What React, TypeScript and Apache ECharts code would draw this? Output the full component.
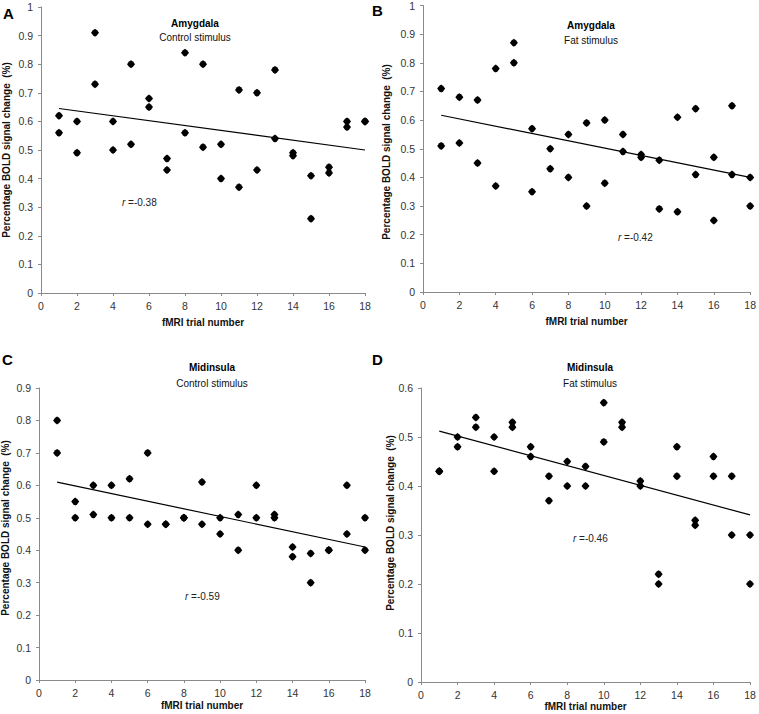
import React, { useEffect, useRef } from "react";
import * as echarts from "echarts";

const trials = [1, 2, 3, 4, 5, 6, 7, 8, 9, 10, 11, 12, 13, 14, 15, 16, 17, 18];

// Panel A: Amygdala, control stimulus (two observations per trial)
const amygControlA = [0.62, 0.6, 0.91, 0.6, 0.8, 0.68, 0.47, 0.84, 0.8, 0.52, 0.71, 0.7, 0.78, 0.49, 0.41, 0.44, 0.6, 0.6];
const amygControlB = [0.56, 0.49, 0.73, 0.5, 0.52, 0.65, 0.43, 0.56, 0.51, 0.4, 0.37, 0.43, 0.54, 0.48, 0.26, 0.42, 0.58, 0.6];
// Panel B: Amygdala, fat stimulus
const amygFatA = [0.71, 0.68, 0.67, 0.78, 0.87, 0.57, 0.5, 0.55, 0.59, 0.6, 0.55, 0.48, 0.46, 0.61, 0.64, 0.47, 0.65, 0.4];
const amygFatB = [0.51, 0.52, 0.45, 0.37, 0.8, 0.35, 0.43, 0.4, 0.3, 0.38, 0.49, 0.47, 0.29, 0.28, 0.41, 0.25, 0.41, 0.3];
// Panel C: Midinsula, control stimulus
const insControlA = [0.8, 0.55, 0.6, 0.6, 0.62, 0.7, 0.48, 0.5, 0.61, 0.5, 0.51, 0.6, 0.51, 0.41, 0.39, 0.4, 0.6, 0.5];
const insControlB = [0.7, 0.5, 0.51, 0.5, 0.5, 0.48, 0.48, 0.5, 0.48, 0.45, 0.4, 0.5, 0.5, 0.38, 0.3, 0.4, 0.45, 0.4];
// Panel D: Midinsula, fat stimulus
const insFatA = [0.43, 0.5, 0.54, 0.5, 0.53, 0.48, 0.42, 0.45, 0.44, 0.57, 0.53, 0.41, 0.22, 0.48, 0.33, 0.46, 0.42, 0.3];
const insFatB = [0.43, 0.48, 0.52, 0.43, 0.52, 0.46, 0.37, 0.4, 0.4, 0.49, 0.52, 0.4, 0.2, 0.42, 0.32, 0.42, 0.3, 0.2];

// Linear trend line endpoints [trial, value]
const trendX = [1, 18];
const trendA = [0.645, 0.5];
const trendB = [0.617, 0.4];
const trendC = [0.61, 0.41];
const trendD = [0.512, 0.341];

const yMaxes = [1, 1, 0.9, 0.6];
const panelLetters = ["A", "B", "C", "D"];
const regions = ["Amygdala", "Amygdala", "Midinsula", "Midinsula"];
const stimuli = ["Control stimulus", "Fat stimulus", "Control stimulus", "Fat stimulus"];
const rValues = ["-0.38", "-0.42", "-0.59", "-0.46"];
const yAxisTitle = "Percentage BOLD signal change\u00a0\u00a0(%)";
const xAxisTitle = "fMRI trial number";

const FONT = '"Liberation Sans", Arial, Helvetica, sans-serif';
const MARKER = "path://M0,-10 L5,-6.5 L10,0 L5,6.5 L0,10 L-5,6.5 L-10,0 L-5,-6.5 Z";

export default function App() {
  const ref = useRef<HTMLDivElement>(null);
  useEffect(() => {
    document.body.style.margin = "0";
    if (!ref.current) return;
    const chart = echarts.init(ref.current, undefined, { renderer: "svg" });

    const grids = [
      { left: 41, top: 7, width: 324, height: 286 },
      { left: 423, top: 4, width: 330, height: 288 },
      { left: 39, top: 388, width: 326, height: 292 },
      { left: 421, top: 388, width: 329, height: 294 },
    ];
    const xNameGaps = [24, 24, 20, 19];
    const pts = [
      [amygControlA, amygControlB],
      [amygFatA, amygFatB],
      [insControlA, insControlB],
      [insFatA, insFatB],
    ];
    const trends = [trendA, trendB, trendC, trendD];

    const axisLineColor = "#8a8a8a";
    const xAxis = grids.map((_, i) => ({
      type: "value",
      gridIndex: i,
      min: 0,
      max: 18,
      interval: 2,
      name: xAxisTitle,
      nameLocation: "middle",
      nameGap: xNameGaps[i],
      nameTextStyle: { fontFamily: FONT, fontWeight: "bold", fontSize: 10, color: "#111" },
      axisLine: { show: true, lineStyle: { color: axisLineColor, width: 1 } },
      axisTick: { show: true, inside: false, length: 3, lineStyle: { color: axisLineColor } },
      axisLabel: { fontFamily: FONT, fontSize: 10.5, color: "#333", margin: 7 },
      splitLine: { show: false },
    }));
    const yAxis = grids.map((_, i) => ({
      type: "value",
      gridIndex: i,
      min: 0,
      max: yMaxes[i],
      interval: 0.1,
      axisLine: { show: true, lineStyle: { color: axisLineColor, width: 1 } },
      axisTick: { show: true, inside: false, length: 3, lineStyle: { color: axisLineColor } },
      axisLabel: {
        fontFamily: FONT,
        fontSize: 10.5,
        color: "#333",
        margin: 8,
        formatter: (v: number) => String(parseFloat(v.toFixed(1))),
      },
      splitLine: { show: false },
    }));

    const series: any[] = [];
    pts.forEach((pair, i) => {
      pair.forEach((vals) => {
        series.push({
          type: "scatter",
          xAxisIndex: i,
          yAxisIndex: i,
          symbol: MARKER,
          symbolSize: [8, 8],
          itemStyle: { color: "#000", opacity: 1 },
          data: trials.map((t, k) => [t, vals[k]]),
          z: 3,
        });
      });
      series.push({
        type: "line",
        xAxisIndex: i,
        yAxisIndex: i,
        showSymbol: false,
        symbol: "none",
        lineStyle: { color: "#000", width: 1.2 },
        data: trendX.map((t, k) => [t, trends[i][k]]),
        z: 2,
      });
    });

    const letterPos = [
      [3, 13],
      [372, 10],
      [2, 359],
      [372, 359],
    ];
    const titlePos = [
      [195, 23, 37],
      [591, 25, 40],
      [212, 367, 383],
      [590, 367, 383],
    ];
    const rPos = [
      [122, 202],
      [618, 237],
      [185, 596],
      [573, 538],
    ];
    const yTitlePos = [
      [6, 150],
      [386, 152],
      [5, 528],
      [390, 523],
    ];

    const graphic: any[] = [];
    for (let i = 0; i < 4; i++) {
      graphic.push({
        type: "text",
        x: letterPos[i][0],
        y: letterPos[i][1],
        style: {
          text: panelLetters[i],
          font: `bold 15px ${FONT}`,
          fill: "#000",
          textAlign: "left",
          textVerticalAlign: "middle",
        },
      });
      graphic.push({
        type: "text",
        x: titlePos[i][0],
        y: titlePos[i][1],
        style: {
          text: regions[i],
          font: `bold 10px ${FONT}`,
          fill: "#000",
          textAlign: "center",
          textVerticalAlign: "middle",
        },
      });
      graphic.push({
        type: "text",
        x: titlePos[i][0],
        y: titlePos[i][2],
        style: {
          text: stimuli[i],
          font: `10px ${FONT}`,
          fill: "#111",
          textAlign: "center",
          textVerticalAlign: "middle",
        },
      });
      graphic.push({
        type: "text",
        x: rPos[i][0],
        y: rPos[i][1],
        style: {
          text: `{i|r} =${rValues[i]}`,
          font: `10px ${FONT}`,
          fill: "#222",
          textAlign: "left",
          textVerticalAlign: "middle",
          rich: {
            i: { fontStyle: "italic", fontFamily: FONT, fontSize: 10, fill: "#222" },
          },
        },
      });
      graphic.push({
        type: "text",
        x: yTitlePos[i][0],
        y: yTitlePos[i][1],
        rotation: Math.PI / 2,
        style: {
          text: yAxisTitle,
          font: `bold 10px ${FONT}`,
          fill: "#111",
          textAlign: "center",
          textVerticalAlign: "middle",
        },
      });
    }

    chart.setOption({
      animation: false,
      backgroundColor: "#fff",
      grid: grids,
      xAxis,
      yAxis,
      series,
      graphic,
    });
    return () => chart.dispose();
  }, []);

  return <div ref={ref} style={{ width: 759, height: 714 }} />;
}
